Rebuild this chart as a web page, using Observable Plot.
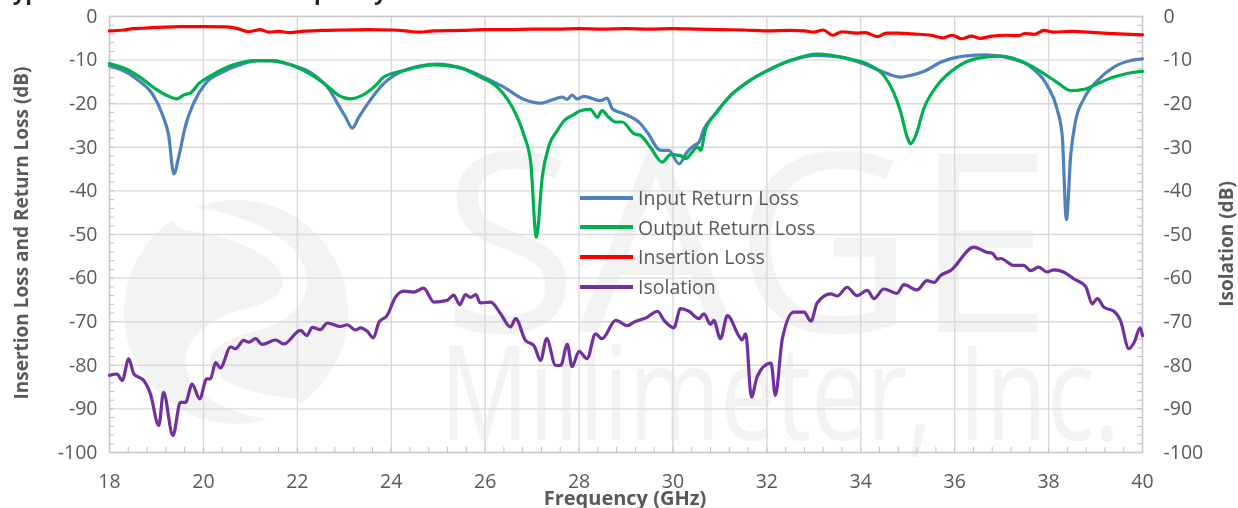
<!DOCTYPE html>
<html>
<head>
<meta charset="utf-8">
<script src="https://cdn.jsdelivr.net/npm/d3@7"></script>
<script src="https://cdn.jsdelivr.net/npm/@observablehq/plot@0.6"></script>
<style>
  body { margin: 0; background: #fff; }
  #wrap { position: relative; width: 1238px; height: 508px; overflow: hidden; font-family: "Open Sans", sans-serif; }
  #wm { position: absolute; left: 0; top: 0; }
  #chart { position: absolute; left: 0; top: 0; }
  .title { position: absolute; left: 0; top: -21px; font-size: 22px; line-height: 24px; font-weight: bold; color: #262626; white-space: nowrap; }
  .ytitle { position: absolute; font-size: 19px; font-weight: bold; color: #595959; white-space: nowrap; transform: translate(-50%, -50%) rotate(-90deg); }
  .xtitle { position: absolute; font-size: 20px; font-weight: bold; color: #595959; white-space: nowrap; transform: translateX(-50%); }
  #legend { position: absolute; left: 580px; top: 183px; }
  .li { display: flex; align-items: center; height: 29.6px; font-size: 19.5px; color: #595959; }
  .li span.sw { display: inline-block; width: 53px; height: 4px; margin-right: 5px; }
</style>
</head>
<body>
<div id="wrap">
  <canvas id="wm" width="1238" height="508"></canvas>
  <div id="chart"></div>
  <div class="title">Typical S-Parameters vs. Frequency</div>
  <div class="ytitle" style="left:21px; top:233px;">Insertion Loss and Return Loss (dB)</div>
  <div class="ytitle" style="left:1226px; top:244px;">Isolation (dB)</div>
  <div class="xtitle" style="left:625px; top:484px;">Frequency (GHz)</div>
  <div id="legend"></div>
</div>
<script>
// ---- Data ----
const seriesNames = ["Input Return Loss", "Output Return Loss", "Insertion Loss", "Isolation"];
const seriesColors = ["#4f81bd", "#00b050", "#ff0000", "#7030a0"];

const xTicks = [18, 20, 22, 24, 26, 28, 30, 32, 34, 36, 38, 40];
const yTicks = [0, -10, -20, -30, -40, -50, -60, -70, -80, -90, -100];

const irlF = [18.0,18.41,18.62,18.91,19.12,19.26,19.37,19.48,19.62,19.8,20.04,20.4,20.75,21.18,21.47,21.89,22.32,22.67,22.88,23.03,23.17,23.31,23.52,23.84,24.27,24.98,25.55,25.97,26.4,26.82,27.18,27.46,27.64,27.75,27.85,27.96,28.1,28.46,28.6,28.71,28.95,29.31,29.45,29.74,29.91,30.13,30.3,30.45,30.55,30.66,30.87,31.23,31.58,32.01,32.5,33.07,33.57,34.07,34.49,34.85,35.06,35.34,35.7,36.2,36.69,37.19,37.62,37.97,38.18,38.29,38.38,38.47,38.57,38.75,39.04,39.39,39.75,40.0];
const irlV = [-11.3,-13.1,-14.7,-17.7,-22.3,-27.3,-36.1,-31.9,-25.0,-19.7,-15.4,-12.8,-11.2,-10.1,-10.2,-11.2,-13.1,-16.6,-20.4,-23.1,-25.6,-23.1,-19.7,-15.4,-12.4,-10.9,-12.0,-13.9,-16.2,-19.0,-19.9,-19.0,-18.5,-19.0,-18.0,-18.9,-18.3,-19.3,-18.7,-21.2,-22.3,-24.6,-26.5,-30.7,-30.7,-33.8,-31.1,-29.6,-28.9,-25.8,-22.7,-18.1,-15.1,-12.4,-10.1,-8.9,-9.3,-10.9,-12.8,-13.9,-13.5,-12.6,-10.5,-9.1,-8.8,-9.6,-11.6,-15.8,-21.2,-27.3,-46.6,-31.9,-24.2,-18.9,-14.7,-11.6,-10.1,-9.7];

const orlF = [18.0,18.34,18.7,18.98,19.26,19.44,19.58,19.73,19.9,20.19,20.61,21.11,21.47,21.89,22.32,22.67,22.88,23.13,23.38,23.67,23.84,24.27,24.91,25.41,25.9,26.26,26.47,26.65,26.83,26.97,27.09,27.22,27.36,27.54,27.68,27.89,28.03,28.24,28.39,28.49,28.63,28.78,28.92,29.17,29.31,29.52,29.77,29.95,30.16,30.27,30.41,30.52,30.59,30.69,30.94,31.23,31.58,32.01,32.5,33.07,33.71,34.2,34.49,34.7,34.85,34.99,35.06,35.17,35.34,35.63,36.05,36.48,36.98,37.47,37.9,38.18,38.47,38.75,39.04,39.39,39.75,40.0];
const orlV = [-10.8,-12.0,-14.3,-16.6,-18.3,-18.9,-18.0,-17.5,-15.4,-13.4,-11.2,-10.1,-10.1,-11.2,-13.5,-16.2,-18.1,-18.9,-18.1,-15.8,-13.9,-12.4,-11.1,-11.6,-13.9,-16.2,-18.9,-22.3,-27.3,-33.4,-50.6,-36.5,-29.6,-26.1,-23.9,-22.5,-21.6,-21.3,-23.1,-21.6,-23.1,-24.2,-24.2,-26.9,-27.3,-30.0,-33.4,-31.7,-31.9,-32.6,-31.1,-29.9,-30.7,-26.1,-21.9,-18.1,-15.1,-12.4,-10.1,-8.6,-9.6,-11.2,-13.5,-17.4,-21.9,-27.7,-29.2,-27.3,-21.2,-15.8,-11.6,-9.6,-9.1,-10.5,-13.1,-15.1,-17.0,-16.7,-15.4,-13.9,-12.9,-12.6];

const ilF = [18.0,18.3,18.5,18.7,19.0,19.5,20.0,20.5,20.8,20.95,21.1,21.2,21.4,21.6,21.85,22.1,22.5,23.0,23.5,24.0,24.3,24.6,24.9,25.5,26.0,26.5,27.0,27.5,28.0,28.5,29.0,29.5,30.0,30.5,31.0,31.5,32.0,32.5,32.8,33.0,33.2,33.4,33.6,33.9,34.1,34.35,34.55,34.8,35.1,35.5,35.75,35.95,36.15,36.35,36.55,36.8,37.1,37.35,37.5,37.7,37.9,38.1,38.5,39.0,39.5,40.0];
const ilV = [-3.3,-3.1,-2.8,-2.7,-2.5,-2.3,-2.3,-2.4,-3.0,-3.5,-3.2,-3.0,-3.6,-3.4,-3.7,-3.4,-3.2,-3.1,-3.0,-3.1,-3.3,-3.6,-3.3,-3.2,-3.0,-3.0,-2.9,-2.9,-2.8,-2.9,-2.8,-2.9,-2.8,-2.9,-3.0,-3.1,-3.3,-3.2,-3.3,-3.6,-3.1,-4.3,-3.5,-3.8,-3.7,-4.6,-3.8,-3.8,-4.0,-4.3,-4.9,-4.3,-5.1,-4.5,-5.0,-4.5,-4.3,-4.4,-3.9,-4.1,-3.2,-3.6,-3.4,-3.7,-4.0,-4.2];

const isoF = [18.0,18.16,18.27,18.41,18.52,18.73,18.87,19.05,19.15,19.35,19.51,19.62,19.76,19.92,20.07,20.15,20.26,20.36,20.58,20.68,20.86,20.97,21.11,21.25,21.54,21.71,22.07,22.2,22.32,22.49,22.64,22.92,23.06,23.24,23.35,23.49,23.62,23.74,23.91,24.09,24.27,24.48,24.69,24.91,25.19,25.33,25.46,25.58,25.69,25.8,25.9,26.12,26.33,26.54,26.65,26.86,27.04,27.18,27.31,27.5,27.61,27.75,27.85,28.0,28.17,28.35,28.49,28.78,29.03,29.17,29.45,29.67,29.81,30.02,30.16,30.34,30.55,30.66,30.8,30.87,31.01,31.16,31.4,31.47,31.55,31.67,31.79,32.01,32.09,32.18,32.33,32.57,32.79,32.94,33.07,33.36,33.5,33.71,33.92,34.14,34.28,34.49,34.77,34.92,35.2,35.41,35.56,35.7,35.91,36.41,36.69,36.8,36.91,36.98,37.26,37.47,37.62,37.79,37.97,38.11,38.32,38.54,38.79,38.93,39.04,39.18,39.39,39.53,39.71,39.82,39.95,40.0];
const isoV = [-82.3,-82.0,-83.5,-78.5,-82.0,-83.5,-86.5,-93.8,-86.2,-96.1,-88.5,-88.5,-84.3,-87.7,-83.1,-83.1,-79.4,-80.6,-75.8,-76.2,-74.3,-74.7,-73.9,-75.2,-74.2,-75.1,-72.0,-73.2,-71.3,-71.8,-70.3,-71.1,-70.7,-71.9,-71.4,-72.2,-73.7,-70.1,-68.6,-64.4,-63.0,-63.2,-62.3,-65.5,-65.1,-63.9,-66.1,-63.8,-64.4,-63.8,-65.7,-65.5,-68.2,-71.2,-69.3,-74.3,-75.5,-78.9,-73.9,-80.0,-80.0,-75.2,-80.3,-76.8,-78.5,-72.8,-73.9,-69.7,-70.9,-70.1,-69.0,-67.6,-69.7,-71.4,-67.0,-67.6,-69.3,-68.2,-70.6,-69.7,-73.9,-68.6,-73.2,-74.2,-72.8,-87.3,-82.7,-79.7,-79.5,-86.9,-73.9,-67.8,-67.8,-69.9,-65.7,-63.6,-64.1,-62.1,-64.0,-62.8,-64.7,-62.5,-63.5,-61.5,-62.7,-60.6,-61.0,-59.4,-58.3,-52.9,-54.1,-54.3,-55.6,-55.5,-57.1,-57.1,-58.3,-57.5,-58.6,-58.1,-58.6,-60.2,-61.9,-65.9,-64.7,-66.7,-67.6,-69.7,-76.2,-74.8,-71.4,-73.2];

// ---- Build table ----
const seriesData = [[irlF, irlV], [orlF, orlV], [ilF, ilV], [isoF, isoV]];
const rows = [];
seriesData.forEach(([fs, vs], i) => fs.forEach((f, j) => rows.push({s: seriesNames[i], f, v: vs[j]})));

const xMinor = d3.range(18, 40.001, 0.4).map(d => +d.toFixed(2));
const yMinor = d3.range(-100, 0.001, 2);

const W = 1238, H = 508, mt = 16, mb = 56, ml = 109, mr = 96;
const pw = W - ml - mr, ph = H - mt - mb;
const gridStroke = "#d9d9d9";
const tickStroke = "#bfbfbf";

// ---- Faint company logo watermark (raster, like the original) ----
(function drawWatermark() {
  const cv = document.getElementById("wm");
  const ctx = cv.getContext("2d");
  const c = "#f3f3f3";
  ctx.fillStyle = c;
  ctx.beginPath(); ctx.arc(236, 312, 112, 0, Math.PI * 2); ctx.fill();
  ctx.strokeStyle = "#fff"; ctx.lineWidth = 24; ctx.lineCap = "round";
  ctx.beginPath(); ctx.moveTo(185, 218);
  ctx.bezierCurveTo(300, 232, 330, 300, 250, 320);
  ctx.bezierCurveTo(170, 340, 180, 400, 290, 410); ctx.stroke();
  function fitText(txt, x, y, size, width) {
    ctx.save();
    ctx.font = `${size}px "Open Sans"`;
    const w = ctx.measureText(txt).width;
    ctx.translate(x, y); ctx.scale(width / w, 1);
    ctx.fillStyle = c; ctx.fillText(txt, 0, 0);
    ctx.restore();
  }
  fitText("SAGE", 442, 332, 250, 610);
  fitText("Millimeter, Inc.", 440, 440, 132, 680);
})();

const chart = Plot.plot({
  width: W, height: H,
  marginTop: mt, marginBottom: mb, marginLeft: ml, marginRight: mr,
  style: {background: "transparent", fontFamily: "Open Sans, sans-serif", fontSize: "19.5px", color: "#595959", overflow: "visible"},
  x: {domain: [18, 40]},
  y: {domain: [-100, 0]},
  color: {domain: seriesNames, range: seriesColors},
  marks: [
    Plot.gridX(xTicks, {stroke: gridStroke, strokeOpacity: 1, strokeWidth: 1.4}),
    Plot.gridY(yTicks, {stroke: gridStroke, strokeOpacity: 1, strokeWidth: 1.4}),
    Plot.tickX(xMinor, {x: d => d, insetTop: ph - 5, stroke: tickStroke, strokeWidth: 1}),
    Plot.tickY(yMinor, {y: d => d, insetRight: pw - 5, stroke: tickStroke, strokeWidth: 1}),
    Plot.tickY(yMinor, {y: d => d, insetLeft: pw - 5, stroke: tickStroke, strokeWidth: 1}),
    Plot.frame({stroke: "#c8c8c8", strokeWidth: 1.4}),
    Plot.axisX({ticks: xTicks, tickSize: 0, tickPadding: 22, label: null, fill: "#595959"}),
    Plot.axisY({anchor: "left", ticks: yTicks, tickSize: 0, tickPadding: 12, label: null, fill: "#595959", tickFormat: d => String(d)}),
    Plot.axisY({anchor: "right", ticks: yTicks, tickSize: 0, tickPadding: 21, label: null, fill: "#595959", tickFormat: d => String(d)}),
    Plot.line(rows, {x: "f", y: "v", z: "s", stroke: "s", strokeWidth: 3.2, curve: "monotone-x", strokeLinejoin: "round"})
  ]
});
document.getElementById("chart").appendChild(chart);

// ---- Legend ----
const legend = document.getElementById("legend");
seriesNames.forEach((name, i) => {
  const row = document.createElement("div");
  row.className = "li";
  row.innerHTML = `<span class="sw" style="background:${seriesColors[i]}"></span>${name}`;
  legend.appendChild(row);
});
</script>
</body>
</html>
